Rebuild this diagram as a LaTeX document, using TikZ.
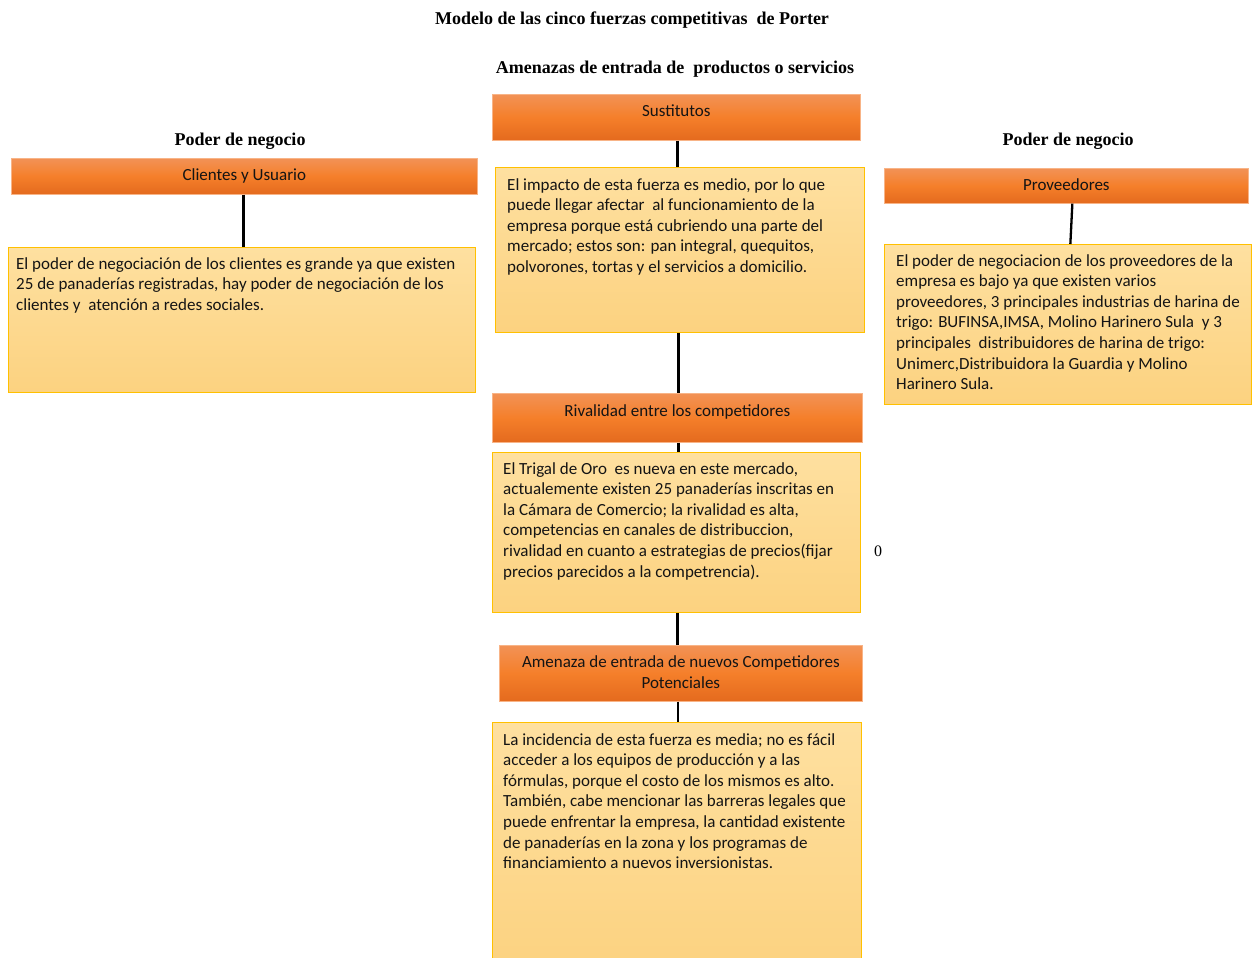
\documentclass[tikz,border=0pt]{standalone}
\usepackage{fontspec}
\setmainfont{Carlito}
\newfontfamily\titlefont{Liberation Serif}
\definecolor{hdrtop}{RGB}{242,146,86}
\definecolor{hdrmid}{RGB}{245,127,42}
\definecolor{hdrbot}{RGB}{228,106,30}
\definecolor{hdrline}{RGB}{248,180,135}
\definecolor{bodytop}{RGB}{254,224,160}
\definecolor{bodybot}{RGB}{252,210,128}
\definecolor{bodyline}{RGB}{255,192,0}
\definecolor{ink}{RGB}{20,20,20}
\begin{document}
\begin{tikzpicture}[x=1pt,y=-1pt,
  hdr/.style={draw=hdrline, line width=0.7pt, top color=hdrtop, bottom color=hdrbot,
    middle color=hdrmid, anchor=north west, inner sep=0pt, align=center,
    font=\fontsize{17}{21}\selectfont, text=ink},
  bodybox/.style={draw=bodyline, line width=0.8pt, top color=bodytop, bottom color=bodybot,
    anchor=north west, inner sep=0pt},
  bodytext/.style={anchor=north west, inner sep=0pt, align=left, text=ink,
    font=\fontsize{17}{20.6}\selectfont},
  heading/.style={font=\titlefont\bfseries\fontsize{18}{22}\selectfont, inner sep=0pt},
  conn/.style={draw=black, line width=2.3pt}]
\useasboundingbox (0,0) rectangle (1256,958);

% titles
\node[heading] (title) at (632,20) {Modelo de las cinco fuerzas competitivas~ de Porter};
\node[heading] (subtitle) at (675,69) {Amenazas de entrada de~ productos o servicios};
\node[heading] (leftcap) at (240,141) {Poder de negocio};
\node[heading] (rightcap) at (1068,141) {Poder de negocio};

% left column: clientes
\node[hdr, minimum width=466pt, minimum height=36pt] (cliH) at (11,158) {Clientes y Usuario};
\node[bodybox, minimum width=467pt, minimum height=145pt] (cliB) at (8,247) {};
\node[bodytext] (cliT) at (16,257) {El poder de negociación de los clientes es grande ya que existen\\
25 de panaderías registradas, hay poder de negociación de los\\
clientes y~ atención a redes sociales.};

% centre column: sustitutos
\node[hdr, minimum width=368pt, minimum height=46pt, text depth=14pt] (susH) at (492,94) {Sustitutos};
\node[bodybox, minimum width=369pt, minimum height=165pt] (susB) at (495,167) {};
\node[bodytext] (susT) at (507,178) {El impacto de esta fuerza es medio, por lo que\\
puede llegar afectar~ al funcionamiento de la\\
empresa porque está cubriendo una parte del\\
mercado; estos son: pan integral, quequitos,\\
polvorones, tortas y el servicios a domicilio.};

% centre column: rivalidad
\node[hdr, minimum width=370pt, minimum height=49pt, text depth=15pt] (rivH) at (492,393) {Rivalidad entre los competidores};
\node[bodybox, minimum width=368pt, minimum height=160pt] (rivB) at (492,452) {};
\node[bodytext] (rivT) at (503,462) {El Trigal de Oro~ es nueva en este mercado,\\
actualemente existen 25 panaderías inscritas en\\
la Cámara de Comercio; la rivalidad es alta,\\
competencias en canales de distribuccion,\\
rivalidad en cuanto a estrategias de precios(fijar\\
precios parecidos a la competrencia).};
\node[font=\titlefont\fontsize{16}{18}\selectfont, inner sep=0pt] (zero) at (878,551) {0};

% centre column: nuevos competidores
\node[hdr, minimum width=363pt, minimum height=56pt, text depth=2pt] (amH) at (499,645) {Amenaza de entrada de nuevos Competidores\\Potenciales};
\node[bodybox, minimum width=369pt, minimum height=250pt] (amB) at (492,722) {};
\node[bodytext] (amT) at (503,733) {La incidencia de esta fuerza es media; no es fácil\\
acceder a los equipos de producción y a las\\
fórmulas, porque el costo de los mismos es alto.\\
También, cabe mencionar las barreras legales que\\
puede enfrentar la empresa, la cantidad existente\\
de panaderías en la zona y los programas de\\
financiamiento a nuevos inversionistas.};

% right column: proveedores
\node[hdr, minimum width=364pt, minimum height=35pt, text depth=2pt] (provH) at (884,168) {Proveedores};
\node[bodybox, minimum width=367pt, minimum height=160pt] (provB) at (884,244) {};
\node[bodytext] (provT) at (896,254) {El poder de negociacion de los proveedores de la\\
empresa es bajo ya que existen varios\\
proveedores, 3 principales industrias de harina de\\
trigo: BUFINSA,IMSA, Molino Harinero Sula~ y 3\\
principales~ distribuidores de harina de trigo:\\
Unimerc,Distribuidora la Guardia y Molino\\
Harinero Sula.};

% connectors
\draw[conn] ([xshift=-1pt]cliH.south) -- ([xshift=-1pt]cliH.south |- cliB.north);
\draw[conn] ([xshift=1pt]susH.south) -- ([xshift=1pt]susH.south |- susB.north);
\draw[conn] ([xshift=1pt]rivH.north |- susB.south) -- ([xshift=1pt]rivH.north);
\draw[conn] ([xshift=1pt]rivH.south) -- ([xshift=1pt]rivH.south |- rivB.north);
\draw[conn] ([xshift=1pt]rivB.south) -- ([xshift=1pt]rivB.south |- amH.north);
\draw[conn] ([xshift=1pt]amB.north |- amH.south) -- ([xshift=1pt]amB.north);
\draw[conn] ([xshift=6pt]provH.south) -- ([xshift=4pt]provH.south |- provB.north);
\end{tikzpicture}
\end{document}
